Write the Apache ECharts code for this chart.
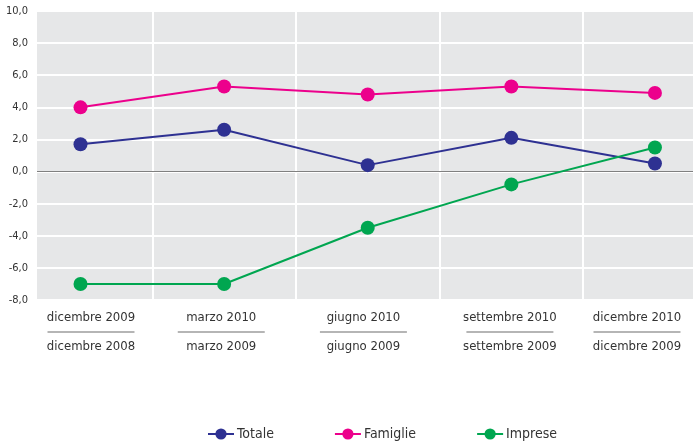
<!DOCTYPE html>
<html>
<head>
<meta charset="utf-8">
<script src="https://cdn.jsdelivr.net/npm/echarts@6/dist/echarts.min.js"></script>
<style>
  html, body { margin: 0; padding: 0; background: #fff; }
  #chart { width: 693px; height: 441px; }
</style>
</head>
<body>
<div id="chart"></div>
<script>
// periodi: trimestre corrente / stesso trimestre anno precedente
var periodiTop = ['dicembre 2009', 'marzo 2010', 'giugno 2010', 'settembre 2010', 'dicembre 2010'];
var periodiBottom = ['dicembre 2008', 'marzo 2009', 'giugno 2009', 'settembre 2009', 'dicembre 2009'];

var totale = [1.7, 2.6, 0.4, 2.1, 0.5];
var famiglie = [4.0, 5.3, 4.8, 5.3, 4.9];
var imprese = [-7.0, -7.0, -3.5, -0.8, 1.5];

// dove stanno le etichette dei periodi (non esattamente sotto i punti nell'originale)
var labelPos = [0.073, 0.98, 1.97, 2.99, 3.875];

var FONT = '"DejaVu Sans Condensed", "Liberation Sans Narrow", Roboto, sans-serif';

function toPoints(arr) {
    return arr.map(function(v, i) { return [i, v]; });
}

function makeSeries(name, data, color) {
    return {
        name: name,
        type: 'line',
        data: toPoints(data),
        symbol: 'circle',
        symbolSize: 14,
        lineStyle: { color: color, width: 2 },
        itemStyle: { color: color },
        emphasis: { disabled: true },
        z: 3
    };
}

var series = [
    makeSeries('Totale', totale, '#2e3192'),
    makeSeries('Famiglie', famiglie, '#ec008c'),
    makeSeries('Imprese', imprese, '#00a650')
];

// linea dello zero
series[0].markLine = {
    silent: true,
    symbol: 'none',
    z: 1,
    label: { show: false },
    lineStyle: { color: '#808080', width: 1, type: 'solid' },
    data: [{ yAxis: 0 }]
};

var chart = echarts.init(document.getElementById('chart'));
chart.setOption({
    animation: false,
    grid: {
        left: 37,
        right: 0,
        top: 11,
        bottom: 141,
        outerBoundsMode: 'none',
        containLabel: false,
        show: true,
        backgroundColor: '#e6e7e8',
        borderWidth: 0
    },
    legend: {
        left: 202,
        top: 422,
        itemWidth: 26,
        itemHeight: 14,
        itemGap: 60,
        textStyle: { fontFamily: FONT, fontSize: 14, color: '#333', padding: [0, 0, 0, -2] },
        data: ['Totale', 'Famiglie', 'Imprese']
    },
    xAxis: {
        type: 'value',
        min: -0.303,
        max: 4.265,
        axisLine: { show: false, onZero: false },
        axisTick: { show: false, customValues: [0.5, 1.5, 2.5, 3.5] },
        splitLine: { show: true, lineStyle: { color: '#ffffff', width: 2 } },
        axisLabel: {
            customValues: labelPos,
            margin: 10,
            hideOverlap: false,
            formatter: function(v) {
                var i = Math.round(v);
                return '{a|' + periodiTop[i] + '}\n{l| }\n{b|' + periodiBottom[i] + '}';
            },
            rich: {
                a: { fontFamily: FONT, fontSize: 13, color: '#333', lineHeight: 15 },
                l: { width: 87, height: 1, lineHeight: 14, backgroundColor: '#6d6d6d' },
                b: { fontFamily: FONT, fontSize: 13, color: '#333', lineHeight: 15 }
            }
        }
    },
    yAxis: {
        type: 'value',
        min: -8,
        max: 10,
        interval: 2,
        axisLine: { show: false },
        axisTick: { show: false },
        splitLine: { show: true, lineStyle: { color: '#ffffff', width: 2 } },
        axisLabel: {
            margin: 9,
            fontFamily: FONT,
            fontSize: 11,
            color: '#333',
            formatter: function(v) { return v.toFixed(1).replace('.', ','); }
        }
    },
    series: series
});
</script>
</body>
</html>
